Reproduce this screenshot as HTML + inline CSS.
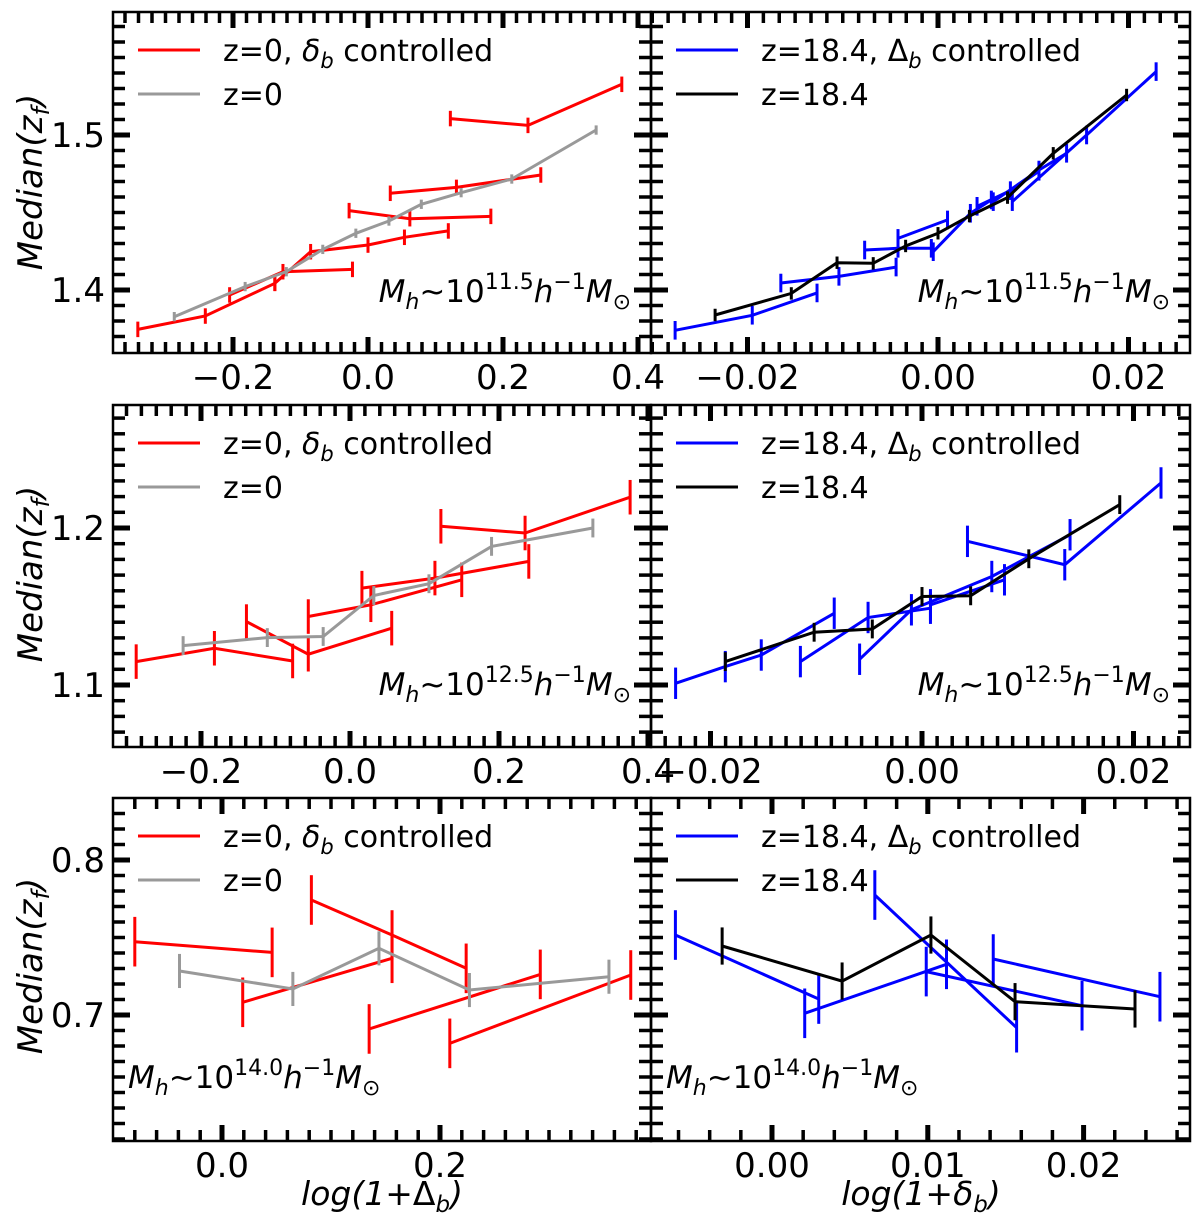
<!DOCTYPE html>
<html><head><meta charset="utf-8">
<style>
html,body{margin:0;padding:0;background:#fff;}
svg{display:block;font-family:"DejaVu Sans","Liberation Sans",sans-serif;}
</style></head>
<body>
<svg id="fig" width="1200" height="1223" viewBox="0 0 1200 1223" xmlns="http://www.w3.org/2000/svg"></svg>
<script>
// ---- Data ----
// Row 1 (Mh ~ 10^11.5)
const p1RedX = [[-0.341,-0.241,-0.138],[-0.205,-0.126,-0.023],[-0.138,-0.085,0.0,0.054,0.119],[-0.028,0.062,0.182],[0.033,0.131,0.256],[0.122,0.237,0.376]];
const p1RedY = [[1.3746,1.3832,1.4043],[1.3968,1.4118,1.4133],[1.4043,1.4247,1.4290,1.4340,1.4381],[1.4512,1.4460,1.4475],[1.4624,1.4662,1.4742],[1.5106,1.5062,1.5327]];
const p1GrayX = [[-0.287,-0.182,-0.121,-0.067,-0.018,0.031,0.079,0.138,0.213,0.338]];
const p1GrayY = [[1.3828,1.4022,1.4118,1.4262,1.4366,1.4445,1.4553,1.4628,1.4716,1.5032]];
const p2BlueX = [[-0.0276,-0.0195,-0.0127],[-0.0165,-0.0104,-0.0044],[-0.0077,-0.0042,-0.0007],[-0.0042,0.0010],[-0.0005,0.0034,0.0056],[0.0041,0.0076,0.0106],[0.0058,0.0106,0.0135],[0.0078,0.0156,0.0229]];
const p2BlueY = [[1.3740,1.3837,1.3981],[1.4045,1.4088,1.4148],[1.4258,1.4269,1.4269],[1.4333,1.4452],[1.4247,1.4495,1.4581],[1.4540,1.4641,1.4766],[1.4570,1.4774,1.4882],[1.4570,1.5000,1.5409]];
const p2BlackX = [[-0.0234,-0.0154,-0.0106,-0.0068,-0.0034,0.0,0.0033,0.0073,0.0121,0.0198]];
const p2BlackY = [[1.3839,1.3978,1.4176,1.4172,1.4284,1.4366,1.4477,1.4596,1.4882,1.5258]];
// Row 2 (Mh ~ 10^12.5)
const p3RedX = [[-0.287,-0.182,-0.077],[-0.139,-0.056,0.056],[-0.056,0.028,0.150],[0.016,0.114,0.240],[0.122,0.235,0.376]];
const p3RedY = [[1.1149,1.1234,1.1153],[1.1404,1.1196,1.1362],[1.1436,1.1511,1.1670],[1.1617,1.1681,1.1787],[1.2011,1.1968,1.2196]];
const p3GrayX = [[-0.224,-0.111,-0.036,0.032,0.106,0.190,0.326]];
const p3GrayY = [[1.1251,1.1302,1.1309,1.1570,1.1645,1.1883,1.2000]];
const p4BlueX = [[-0.0233,-0.0186,-0.0152,-0.0083],[-0.0115,-0.0051,0.0008],[-0.0059,-0.0010,0.0066,0.0140],[0.0008,0.0078],[0.0043,0.0135,0.0226]];
const p4BlueY = [[1.1011,1.1117,1.1191,1.1457],[1.1149,1.1430,1.1489],[1.1164,1.1479,1.1691,1.1957],[1.1511,1.1670],[1.1915,1.1766,1.2287]];
const p4BlackX = [[-0.0186,-0.0102,-0.0047,0.0,0.0046,0.0101,0.0187]];
const p4BlackY = [[1.1149,1.1336,1.1357,1.1564,1.1568,1.1804,1.2149]];
// Row 3 (Mh ~ 10^14.0)
const p5RedX = [[-0.080,0.046],[0.019,0.156],[0.082,0.156,0.224],[0.135,0.292],[0.209,0.375]];
const p5RedY = [[0.7473,0.7404],[0.7082,0.7366],[0.7742,0.7516,0.7301],[0.6910,0.7262],[0.6817,0.7258]];
const p5GrayX = [[-0.039,0.065,0.144,0.227,0.355]];
const p5GrayY = [[0.7284,0.7168,0.7430,0.7161,0.7247]];
const p6BlueX = [[-0.0062,0.0030],[0.0021,0.0112],[0.0066,0.0157],[0.0099,0.0199],[0.0142,0.0249]];
const p6BlueY = [[0.7516,0.7103],[0.7011,0.7327],[0.7774,0.6918],[0.7280,0.7060],[0.7361,0.7118]];
const p6BlackX = [[-0.0032,0.0045,0.0102,0.0156,0.0233]];
const p6BlackY = [[0.7445,0.7219,0.7516,0.7086,0.7039]];
// Error half-widths
const errRow1 = [0.005,0.003,0.006,0.004];
const errRow2 = [0.011,0.006,0.010,0.006];
const errRow3 = [0.016,0.011,0.016,0.012];
// Tick labels
const xTicks1L = [-0.2,0.0,0.2,0.4]; const xLab1L = ['−0.2','0.0','0.2','0.4'];
const xTicks1R = [-0.02,0.0,0.02]; const xLab1R = ['−0.02','0.00','0.02'];
const xTicks2L = [-0.2,0.0,0.2,0.4]; const xLab2L = ['−0.2','0.0','0.2','0.4'];
const xTicks2R = [-0.02,0.0,0.02]; const xLab2R = ['−0.02','0.00','0.02'];
const xTicks3L = [0.0,0.2]; const xLab3L = ['0.0','0.2'];
const xTicks3R = [0.0,0.01,0.02]; const xLab3R = ['0.00','0.01','0.02'];
const yTicks1 = [1.4,1.5]; const yLab1 = ['1.4','1.5'];
const yTicks2 = [1.1,1.2]; const yLab2 = ['1.1','1.2'];
const yTicks3 = [0.7,0.8]; const yLab3 = ['0.7','0.8'];

const NS='http://www.w3.org/2000/svg';
const svg=document.getElementById('fig');
function mk(tag,attrs,parent){const e=document.createElementNS(NS,tag);for(const k in attrs)e.setAttribute(k,attrs[k]);(parent||svg).appendChild(e);return e;}

const panels=[
 {id:'top-left',x0:113,x1:651,y0:12,y1:353,xm:368,xs:675,ym:290,yv:1.4,ys:1550,xt:xTicks1L,xl:xLab1L,xmin:0.02,yt:yTicks1,yl:yLab1,
  series:[[p1RedX,p1RedY,'#ff0000',errRow1[0],'red-series'],[p1GrayX,p1GrayY,'#999999',errRow1[1],'gray-series']],
  leg:[['#ff0000','z=0, ','δ','b',' controlled'],['#999999','z=0']],mass:'11.5',massRight:true},
 {id:'top-right',x0:651,x1:1190,y0:12,y1:353,xm:938,xs:9525,ym:290,yv:1.4,ys:1550,xt:xTicks1R,xl:xLab1R,xmin:0.02/12,yt:yTicks1,yl:null,
  series:[[p2BlueX,p2BlueY,'#0000ff',errRow1[2],'blue-series'],[p2BlackX,p2BlackY,'#000000',errRow1[3],'black-series']],
  leg:[['#0000ff','z=18.4, ','Δ','b',' controlled'],['#000000','z=18.4']],mass:'11.5',massRight:true},
 {id:'middle-left',x0:113,x1:651,y0:405,y1:747,xm:350,xs:745,ym:685,yv:1.1,ys:1570,xt:xTicks2L,xl:xLab2L,xmin:0.02,yt:yTicks2,yl:yLab2,
  series:[[p3RedX,p3RedY,'#ff0000',errRow2[0],'red-series'],[p3GrayX,p3GrayY,'#999999',errRow2[1],'gray-series']],
  leg:[['#ff0000','z=0, ','δ','b',' controlled'],['#999999','z=0']],mass:'12.5',massRight:true},
 {id:'middle-right',x0:651,x1:1190,y0:405,y1:747,xm:922,xs:10575,ym:685,yv:1.1,ys:1570,xt:xTicks2R,xl:xLab2R,xmin:0.02/14,yt:yTicks2,yl:null,
  series:[[p4BlueX,p4BlueY,'#0000ff',errRow2[2],'blue-series'],[p4BlackX,p4BlackY,'#000000',errRow2[3],'black-series']],
  leg:[['#0000ff','z=18.4, ','Δ','b',' controlled'],['#000000','z=18.4']],mass:'12.5',massRight:true},
 {id:'bottom-left',x0:113,x1:651,y0:798,y1:1141,xm:222,xs:1090,ym:1015,yv:0.7,ys:1550,xt:xTicks3L,xl:xLab3L,xmin:0.02,yt:yTicks3,yl:yLab3,
  series:[[p5RedX,p5RedY,'#ff0000',errRow3[0],'red-series'],[p5GrayX,p5GrayY,'#999999',errRow3[1],'gray-series']],
  leg:[['#ff0000','z=0, ','δ','b',' controlled'],['#999999','z=0']],mass:'14.0',massRight:false},
 {id:'bottom-right',x0:651,x1:1190,y0:798,y1:1141,xm:772,xs:15580,ym:1015,yv:0.7,ys:1550,xt:xTicks3R,xl:xLab3R,xmin:0.002,yt:yTicks3,yl:null,
  series:[[p6BlueX,p6BlueY,'#0000ff',errRow3[2],'blue-series'],[p6BlackX,p6BlackY,'#000000',errRow3[3],'black-series']],
  leg:[['#0000ff','z=18.4, ','Δ','b',' controlled'],['#000000','z=18.4']],mass:'14.0',massRight:false}
];

panels.forEach(p=>{
  const X=v=>p.xm+v*p.xs, Y=v=>p.ym-(v-p.yv)*p.ys;
  const g=mk('g',{});
  
  
  const cid='clip-'+p.id;
  const cp=mk('clipPath',{id:cid},g); mk('rect',{x:p.x0,y:p.y0,width:p.x1-p.x0,height:p.y1-p.y0},cp);
  const plot=mk('g',{'clip-path':'url(#'+cid+')'},g);
  p.series.forEach(s=>{
    const [xs,ys,col,err,name]=s;
    xs.forEach((seg,i)=>{
      const pts=seg.map((xv,j)=>X(xv).toFixed(1)+','+Y(ys[i][j]).toFixed(1)).join(' ');
      const pl=mk('polyline',{points:pts,fill:'none',stroke:col,'stroke-width':3,'stroke-linejoin':'miter'},plot);
      
      
      seg.forEach((xv,j)=>{
        const yv=ys[i][j];
        const eb=mk('line',{x1:X(xv),x2:X(xv),y1:Y(yv+err),y2:Y(yv-err),stroke:col,'stroke-width':3},plot);
        
        
      });
    });
  });
  const fr=mk('rect',{x:p.x0,y:p.y0,width:p.x1-p.x0,height:p.y1-p.y0,fill:'none',stroke:'#000','stroke-width':2.5},g);
  
  
  const vmin=(p.x0-p.xm)/p.xs, vmax=(p.x1-p.xm)/p.xs;
  const base=p.xt[0];
  for(let k=Math.ceil((vmin-base)/p.xmin-1e-6);base+k*p.xmin<=vmax+1e-9;k++){
    const v=base+k*p.xmin, x=X(v);
    if(x<p.x0+1||x>p.x1-1)continue;
    const major=p.xt.some(t=>Math.abs(t-v)<p.xmin*0.1);
    const L=major?16:11, W=major?5:3.5;
    mk('line',{x1:x,x2:x,y1:p.y1,y2:p.y1-L,stroke:'#000','stroke-width':W},g);
    mk('line',{x1:x,x2:x,y1:p.y0,y2:p.y0+L,stroke:'#000','stroke-width':W},g);
  }
  p.xt.forEach((t,i)=>{
    const tl=mk('text',{x:X(t),y:p.y1+36,'text-anchor':'middle','font-size':34,fill:'#000'},g);
    tl.textContent=p.xl[i];
    
    
  });
  const ymaxv=p.yv+(p.ym-p.y0)/p.ys, yminv=p.yv-(p.y1-p.ym)/p.ys;
  for(let k=Math.ceil((yminv-p.yv)/0.01);p.yv+k*0.01<=ymaxv;k++){
    const v=p.yv+k*0.01, y=Y(v);
    if(y<p.y0+1||y>p.y1-1)continue;
    const major=p.yt.some(t=>Math.abs(t-v)<0.001);
    const L=major?17:12, W=major?5:3.5;
    mk('line',{x1:p.x0,x2:p.x0+L,y1:y,y2:y,stroke:'#000','stroke-width':W},g);
    mk('line',{x1:p.x1,x2:p.x1-L,y1:y,y2:y,stroke:'#000','stroke-width':W},g);
  }
  if(p.yl){
    p.yt.forEach((t,i)=>{
      const tl=mk('text',{x:p.x0-8,y:Y(t)+12,'text-anchor':'end','font-size':34,fill:'#000'},g);
      tl.textContent=p.yl[i];
      
      
    });
  }
  p.leg.forEach((e,i)=>{
    const ly=p.y0+38+i*44;
    const ln=mk('line',{x1:p.x0+25,x2:p.x0+87,y1:ly,y2:ly,stroke:e[0],'stroke-width':3},g);
    
    
    const t=mk('text',{x:p.x0+110,y:ly+11,'font-size':30,fill:'#000'},g);
    
    
    if(e.length>2){
      mk('tspan',{},t).textContent=e[1];
      mk('tspan',{'font-style':e[2]==='δ'?'italic':'normal'},t).textContent=e[2];
      mk('tspan',{'font-size':21,'font-style':'italic',dy:7},t).textContent=e[3];
      mk('tspan',{dy:-7},t).textContent=e[4];
    } else {
      mk('tspan',{},t).textContent=e[1];
    }
  });
  const ay=p.y0+290;
  const at=mk('text',{x:p.massRight?p.x1-20:p.x0+15,y:ay,'text-anchor':p.massRight?'end':'start','font-size':31,fill:'#000'},g);
  
  
  mk('tspan',{'font-style':'italic'},at).textContent='M';
  mk('tspan',{'font-style':'italic','font-size':22,dy:7},at).textContent='h';
  mk('tspan',{dy:-7},at).textContent='~10';
  mk('tspan',{'font-size':22,dy:-13},at).textContent=p.mass;
  mk('tspan',{'font-style':'italic',dy:13},at).textContent='h';
  mk('tspan',{'font-size':22,dy:-13},at).textContent='−1';
  mk('tspan',{'font-style':'italic',dy:13},at).textContent='M';
  mk('tspan',{'font-size':22,dy:7},at).textContent='⊙';
});

[182,574,966].forEach(cy=>{
  const t=mk('text',{x:0,y:0,transform:'translate(42,'+cy+') rotate(-90)','text-anchor':'middle','font-size':34,'font-style':'italic',fill:'#000'});
  
  
  mk('tspan',{},t).textContent='Median(z';
  mk('tspan',{'font-size':24,dy:7},t).textContent='f';
  mk('tspan',{dy:-7},t).textContent=')';
});
[[382,'Δ'],[921,'δ']].forEach(a=>{
  const t=mk('text',{x:a[0],y:1205,'text-anchor':'middle','font-size':33,'font-style':'italic',fill:'#000'});
  
  
  mk('tspan',{},t).textContent='log(1+';
  mk('tspan',{'font-style':a[1]==='Δ'?'normal':'italic'},t).textContent=a[1];
  mk('tspan',{'font-size':23,dy:7},t).textContent='b';
  mk('tspan',{dy:-7},t).textContent=')';
});
</script>
</body></html>
